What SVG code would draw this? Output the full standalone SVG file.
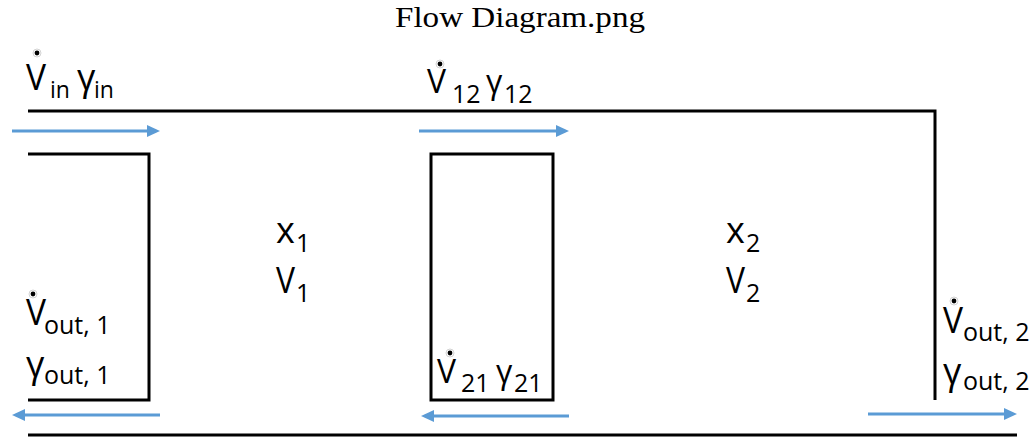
<svg xmlns="http://www.w3.org/2000/svg" width="1031" height="437" viewBox="0 0 1031 437">
<style>
.t{font-family:"Open Sans","Noto Sans",sans-serif;fill:#000}
.b{font-size:36px}
.m{font-size:32px}
.s{font-size:23px}
.s2{font-size:25px}
.ln{fill:none;stroke:#000;stroke-width:3}
.ar{stroke:#5B9BD5;stroke-width:3;fill:none}
.dr{fill:#fff;stroke:#c8c8c8;stroke-width:0.8}
.dd{fill:#000}
</style>
<defs>
<marker id="ah" markerUnits="userSpaceOnUse" markerWidth="14" markerHeight="12" refX="2" refY="6" orient="auto">
<path d="M0,0 L13,6 L0,12 z" fill="#5B9BD5"/>
</marker>
</defs>
<rect width="1031" height="437" fill="#fff"/>
<text x="520" y="27" text-anchor="middle" font-family="'Liberation Serif',serif" font-size="30" textLength="250" lengthAdjust="spacingAndGlyphs">Flow Diagram.png</text>

<g id="walls">
<polyline class="ln" points="28,111 935,111 935,400"/>
<line class="ln" x1="28" y1="435" x2="1017" y2="435"/>
</g>
<g id="tank1-wall">
<polyline class="ln" points="28,154 149,154 149,400 28,400"/>
</g>
<g id="divider">
<rect class="ln" x="431" y="154" width="122" height="246"/>
</g>

<g id="connectors">
<line class="ar" x1="12" y1="131" x2="149" y2="131" marker-end="url(#ah)"/>
<line class="ar" x1="419" y1="131" x2="558" y2="131" marker-end="url(#ah)"/>
<line class="ar" x1="160" y1="415" x2="23" y2="415" marker-end="url(#ah)"/>
<line class="ar" x1="569" y1="416" x2="432" y2="416" marker-end="url(#ah)"/>
<line class="ar" x1="868" y1="414" x2="1006" y2="414" marker-end="url(#ah)"/>
</g>

<g id="label-in">
<circle class="dr" cx="37" cy="53" r="4"/><circle class="dd" cx="37" cy="53" r="2.4"/>
<text class="t b" x="26" y="90" textLength="20" lengthAdjust="spacingAndGlyphs">V</text>
<text class="t s" x="50" y="98">in</text>
<text class="t b" x="77" y="90">γ</text>
<text class="t s" x="94" y="98">in</text>
</g>

<g id="label-12">
<circle class="dr" cx="440" cy="64" r="4"/><circle class="dd" cx="440" cy="64" r="2.4"/>
<text class="t m" x="427" y="93" textLength="19" lengthAdjust="spacingAndGlyphs">V</text>
<text class="t s2" x="452" y="103">12</text>
<text class="t m" x="486" y="93">γ</text>
<text class="t s2" x="504" y="103">12</text>
</g>

<g id="label-out1">
<circle class="dr" cx="33" cy="294" r="4"/><circle class="dd" cx="33" cy="294" r="2.4"/>
<text class="t b" x="26" y="325" textLength="20" lengthAdjust="spacingAndGlyphs">V</text>
<text class="t s2" x="44" y="334">out, 1</text>
<text class="t b" x="26" y="377">γ</text>
<text class="t s2" x="44" y="384">out, 1</text>
</g>

<g id="label-21">
<circle class="dr" cx="450" cy="353" r="4"/><circle class="dd" cx="450" cy="353" r="2.4"/>
<text class="t m" x="437" y="383" textLength="19" lengthAdjust="spacingAndGlyphs">V</text>
<text class="t s2" x="461" y="392">21</text>
<text class="t m" x="496" y="383">γ</text>
<text class="t s2" x="514" y="392">21</text>
</g>

<g id="label-out2">
<circle class="dr" cx="954" cy="301" r="4"/><circle class="dd" cx="954" cy="301" r="2.4"/>
<text class="t b" x="943" y="333" textLength="20" lengthAdjust="spacingAndGlyphs">V</text>
<text class="t s2" x="963" y="341">out, 2</text>
<text class="t b" x="943" y="384">γ</text>
<text class="t s2" x="963" y="390">out, 2</text>
</g>

<g id="tank1">
<text class="t b" x="276" y="243">x</text>
<text class="t s2" x="296" y="252">1</text>
<text class="t b" x="276" y="293" textLength="19" lengthAdjust="spacingAndGlyphs">V</text>
<text class="t s2" x="296" y="302">1</text>
</g>

<g id="tank2">
<text class="t b" x="726" y="243">x</text>
<text class="t s2" x="746" y="252">2</text>
<text class="t b" x="726" y="293" textLength="19" lengthAdjust="spacingAndGlyphs">V</text>
<text class="t s2" x="746" y="302">2</text>
</g>
</svg>
